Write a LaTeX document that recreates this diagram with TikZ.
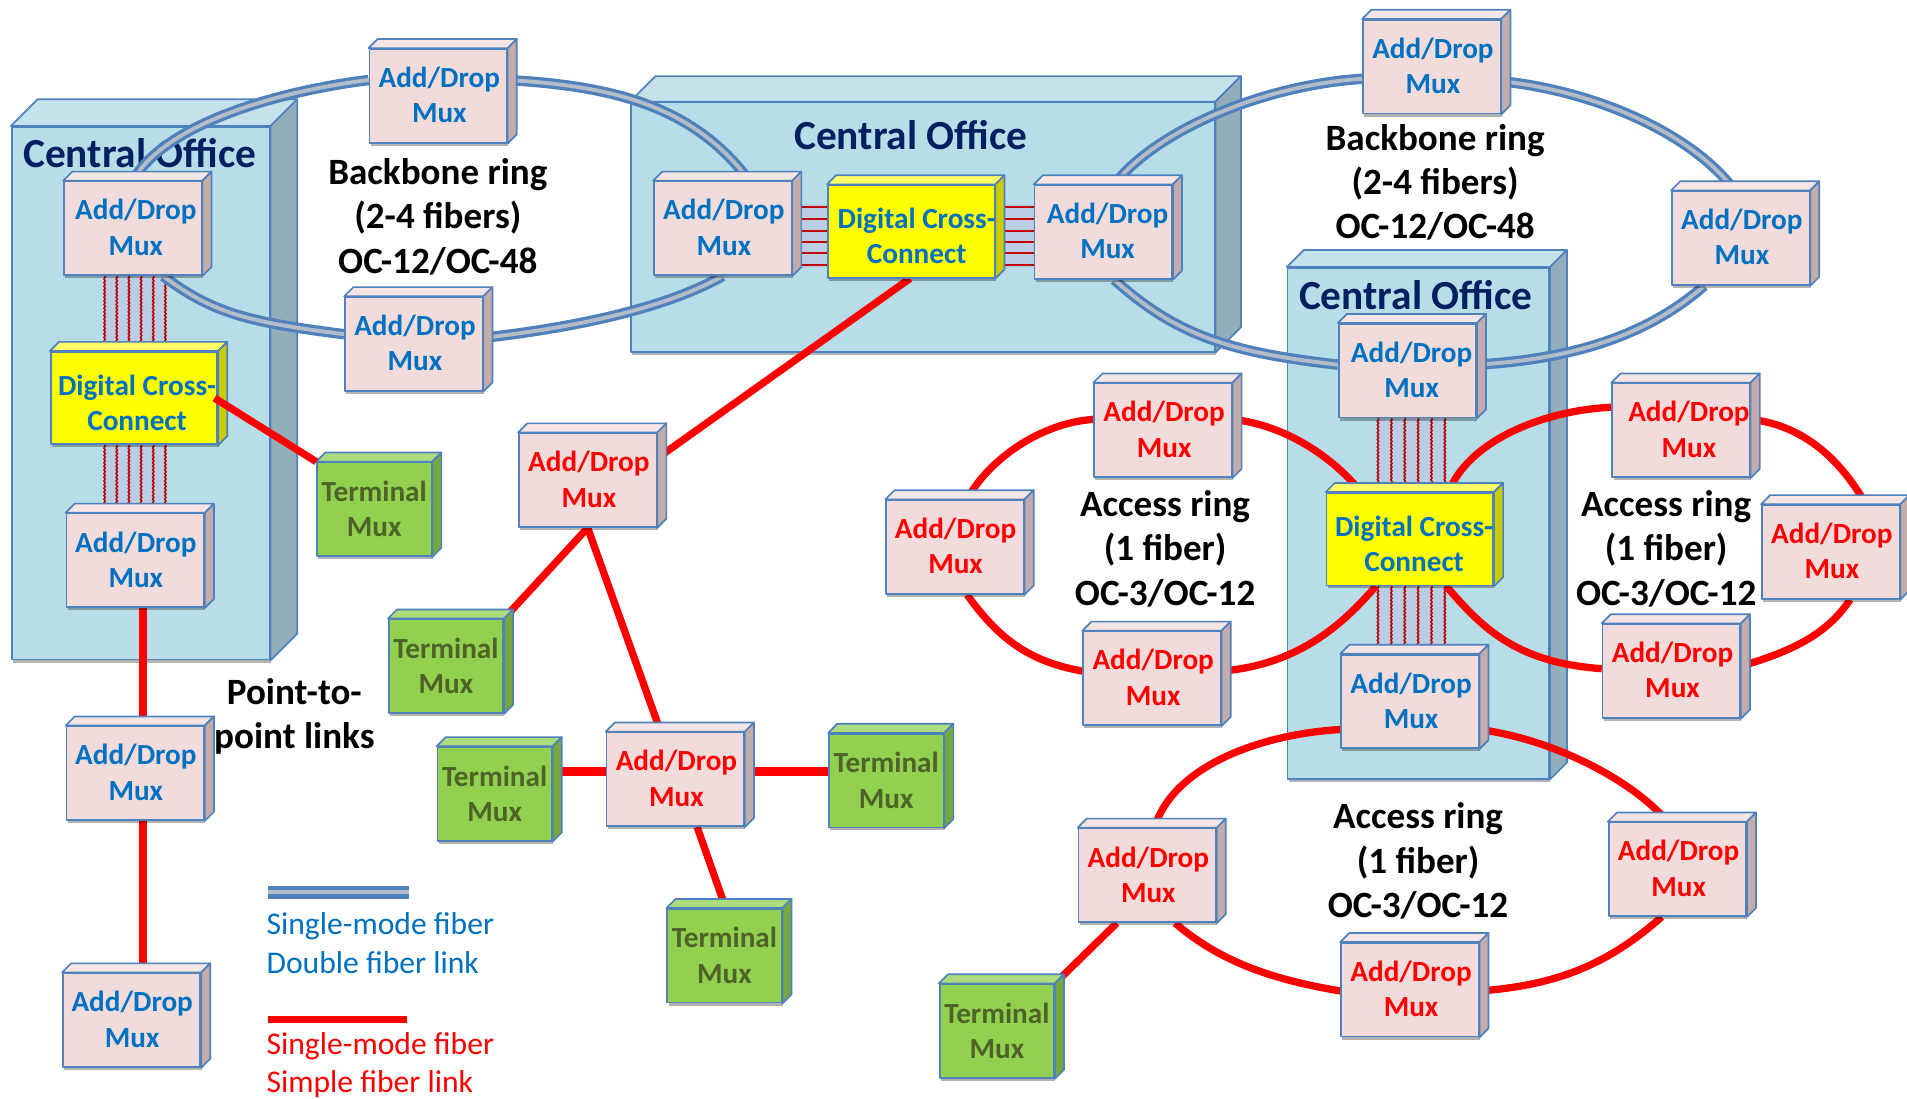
\documentclass[tikz,border=0pt]{standalone}
\usepackage{fontspec}
\setmainfont{Carlito}
\usetikzlibrary{calc,shadows,decorations.pathmorphing}
\definecolor{edgeblue}{HTML}{4F81BD}
\definecolor{textblue}{HTML}{0070C0}
\definecolor{navy}{HTML}{002060}
\definecolor{admface}{HTML}{F2DCDB}
\definecolor{admtop}{HTML}{F5E6E5}
\definecolor{admside}{HTML}{C4ACAB}
\definecolor{termface}{HTML}{92D050}
\definecolor{termtop}{HTML}{ADDC7F}
\definecolor{termside}{HTML}{75A640}
\definecolor{termtext}{HTML}{4F6228}
\definecolor{dccface}{HTML}{FFFF00}
\definecolor{dcctop}{HTML}{FFFF66}
\definecolor{dccside}{HTML}{CCCC00}
\definecolor{coface}{HTML}{B7DDE8}
\definecolor{cotop}{HTML}{C5E2EB}
\definecolor{coside}{HTML}{92AEBA}
\definecolor{bundle}{HTML}{B9CDE5}
\definecolor{bundleline}{HTML}{C00000}
\definecolor{fibergap}{HTML}{B4BCC8}
\pgfdeclarelayer{colayer}
\pgfdeclarelayer{linklayer}
\pgfdeclarelayer{overlayer}
\pgfsetlayers{colayer,linklayer,main,overlayer}
\tikzset{
  softshadow/.style={drop shadow={shadow xshift=1pt,shadow yshift=-2.5pt,opacity=.3,fill=black}},
  cubeedge/.style={draw=edgeblue,line width=1.4pt,line join=round},
  cubeface/.style={cubeedge,softshadow,inner sep=0pt,anchor=south west},
  admfont/.style={font=\fontsize{24}{29}\selectfont\bfseries},
  admb/.style={cubeface,fill=admface,minimum width=113pt,minimum height=77pt,admfont,text=textblue},
  admr/.style={cubeface,fill=admface,minimum width=113pt,minimum height=77pt,admfont,text=red},
  term/.style={cubeface,fill=termface,minimum width=94pt,minimum height=77pt,admfont,text=termtext},
  dcc/.style={cubeface,fill=dccface,minimum width=137pt,minimum height=76pt,admfont,text=textblue},
  office/.style={cubeface,fill=coface},
  officetitle/.style={font=\fontsize{34}{36}\selectfont\bfseries,text=navy,inner sep=0pt},
  caption/.style={font=\fontsize{30.5}{36.5}\selectfont\bfseries,text=black,align=center,inner sep=0pt},
  legendblue/.style={font=\fontsize{26}{32}\selectfont,text=textblue,align=left,anchor=north west,inner sep=0pt},
  legendred/.style={font=\fontsize{26}{31}\selectfont,text=red,align=left,anchor=north west,inner sep=0pt},
  bluefiber/.style={draw=edgeblue,line width=2.7pt,double=fibergap,double distance=3.2pt},
  redfiber/.style={draw=red,line width=6pt},
  bundlerule/.style={draw=bundleline,line width=1.3pt,decorate,decoration={snake,amplitude=.5pt,segment length=3pt}},
  hbundlerule/.style={draw=bundleline,line width=2pt},
}
% centred two-line label shifted by dx (right) and dy (down) from the box centre
\newcommand\boxtext[4]{\makebox[0pt]{\kern\dimexpr 2\dimexpr #1pt\relax\relax\raisebox{\dimexpr -#2pt -9.5pt\relax}[0pt][0pt]{\begin{tabular}[c]{@{}c@{}}#3\\#4\end{tabular}}}}
% name, left, bottom, depth, style, colour prefix, text
\newcommand\cubebox[7]{%
  \node[#5] (#1) at (#2,#3) {#7};
  \path[cubeedge,fill=#6top] (#1.north west) -- ++(#4,-#4) -- ($(#1.north east)+(#4,-#4)$) -- (#1.north east) -- cycle;
  \path[cubeedge,fill=#6side] (#1.north east) -- ++(#4,-#4) -- ($(#1.south east)+(#4,-#4)$) -- (#1.south east) -- cycle;
}
\newcommand\adb[4][1]{\cubebox{#2}{#3}{#4}{7.5}{admb}{adm}{\boxtext{#1}{-1.5}{Add/Drop}{Mux}}}
\newcommand\adr[4][1]{\cubebox{#2}{#3}{#4}{7.5}{admr}{adm}{\boxtext{#1}{-1.5}{Add/Drop}{Mux}}}
\newcommand\tmx[3]{\cubebox{#1}{#2}{#3}{7.5}{term}{term}{\boxtext{0}{-1}{Terminal}{Mux}}}
\newcommand\dcx[4]{\cubebox{#1}{#2}{#3}{7.5}{dcc}{dcc}{\boxtext{#4}{3}{Digital Cross-}{Connect}}}
% vertical bundle: upper node, lower node, left x, pitch
\newcommand\vbundle[4]{%
  \fill[bundle] (#3,0 |- #1.south) rectangle ({#3+5*#4},0 |- #2.north);
  \foreach \dx in {0,1,2,3,4,5}{\draw[bundlerule] ({#3+\dx*#4},0 |- #1.south) -- ({#3+\dx*#4},0 |- #2.north);}
}
% horizontal bundle: left node, right node, x-end anchor offset
\newcommand\hbundle[4]{%
  \fill[bundle] (#3,168) rectangle (#4,220);
  \foreach \yy in {170,180,190,199,208,218}{\draw[hbundlerule] (#3,\yy -| #1.east) -- (#3,\yy -| #2.west);}
}
\begin{document}
\begin{tikzpicture}[x=1pt,y=-1pt]
\useasboundingbox (0,0) rectangle (1568,903.6);
\begin{pgfonlayer}{colayer}
  \fill[white] (0,0) rectangle (1568,903.6);
  \cubebox{co1}{9}{543}{22}{office,minimum width=212pt,minimum height=438pt}{co}{}
  \cubebox{co2}{518}{290}{21}{office,minimum width=480pt,minimum height=205pt}{co}{}
  \cubebox{co3}{1058}{641}{14}{office,minimum width=215pt,minimum height=420pt}{co}{}
  \node[officetitle] (t1) at (115,126) {Central Office};
  \node[officetitle] (t2) at (749,111) {Central Office};
  \node[officetitle] (t3) at (1164,243) {Central Office};
\end{pgfonlayer}
% blue-text add/drop mux
\adb[2.5]{a1}{52}{227}
\adb[0.5]{a2}{54}{500}
\adb[0.5]{a3}{54}{675}
\adb[0.5]{a4}{51}{878}
\adb{a5}{303}{118}
\adb{a6}{283}{322}
\adb{a7}{537}{227}
\adb[3.5]{a8}{850}{230}
\adb{a9}{1120}{94}
\adb{a10}{1374}{235}
\adb[3.5]{a11}{1100}{344}
\adb{a12}{1102}{616}
% red-text add/drop mux
\adr{a13}{426}{434}
\adr{a14}{498}{680}
\adr{a15}{899}{393}
\adr[0.5]{a16}{728}{489}
\adr{a17}{890}{597}
\adr[6.5]{a18}{1325}{393}
\adr{a19}{1448}{493}
\adr{a20}{1317}{591}
\adr{a21}{886}{759}
\adr{a22}{1322}{754}
\adr{a23}{1102}{853}
% terminal mux
\tmx{t1m}{260}{458}
\tmx{t2m}{319}{587}
\tmx{t3m}{359}{692}
\tmx{t4m}{681}{681}
\tmx{t5m}{548}{825}
\tmx{t6m}{772}{887}
% cross-connects
\dcx{d1}{41}{366}{2.5}
\dcx{d2}{680}{229}{4.5}
\dcx{d3}{1090}{482}{3.5}
% captions
\node[caption] (c1) at (360,178) {Backbone ring\\(2-4 fibers)\\OC-12/OC-48};
\node[caption] (c2) at (1180,150) {Backbone ring\\(2-4 fibers)\\OC-12/OC-48};
\node[caption] (c3) at (958,451) {Access ring\\(1 fiber)\\OC-3/OC-12};
\node[caption] (c4) at (1370,451) {Access ring\\(1 fiber)\\OC-3/OC-12};
\node[caption] (c5) at (1166,708) {Access ring\\(1 fiber)\\OC-3/OC-12};
\node[caption] (c6) at (242,589) {Point-to-\\point links};
% legend
\coordinate (lg1a) at (220,733.5);
\coordinate (lg1b) at (336,733.5);
\coordinate (lg2a) at (220,838);
\coordinate (lg2b) at (335,838);
\node[legendblue] (lt1) at (219,750) {Single-mode fiber\\Double fiber link};
\node[legendred] (lt2) at (219,849) {Single-mode fiber\\Simple fiber link};
\begin{pgfonlayer}{linklayer}
  % bundles
  \vbundle{a1}{d1}{86}{10}
  \vbundle{d1}{a2}{86}{10}
  \vbundle{a11}{d3}{1133}{11}
  \vbundle{d3}{a12}{1133}{11}
  \hbundle{a7}{d2}{660}{680}
  \hbundle{d2}{a8}{825}{850}
  % left backbone ring
  \draw[bluefiber] (a1.north) .. controls +(25,-45) and +(-80,10) .. ($(a5.west)+(0,-13)$);
  \draw[bluefiber] ($(a5.east)+(0,-13)$) .. controls +(90,5) and +(-45,-60) .. ($(a7.north)+(22,0)$);
  \draw[bluefiber] (a7.south) .. controls +(-50,28) and +(70,-8) .. ($(a6.east)+(0,-5)$);
  \draw[bluefiber] ($(a6.west)+(0,-8)$) .. controls +(-80,-10) and +(40,30) .. ($(a1.south)+(25,0)$);
  % right backbone ring
  \draw[bluefiber] ($(a9.west)+(0,10)$) .. controls +(-80,5) and +(35,-45) .. ($(a8.north)+(9,0)$);
  \draw[bluefiber] ($(a9.east)+(0,12)$) .. controls +(77,8) and +(-35,-47) .. ($(a10.north)+(-5,0)$);
  \draw[bluefiber] ($(a10.south)+(-30,0)$) .. controls +(-40,35) and +(90,-5) .. ($(a11.east)+(0,-5)$);
  \draw[bluefiber] ($(a11.west)+(0,-5)$) .. controls +(-90,-10) and +(50,45) .. ($(a8.south)+(9,0)$);
  % access ring 1
  \draw[redfiber] ($(a15.west)+(0,-9)$) .. controls +(-44,3) and +(17,-32) .. ($(a16.north)+(10,0)$);
  \draw[redfiber] ($(a15.east)+(0,-9)$) .. controls +(38,4) and +(-28,-34) .. ($(d3.north)+(-40,0)$);
  \draw[redfiber] ($(a16.south)+(10,0)$) .. controls +(25,35) and +(-45,-8) .. ($(a17.west)+(0,-6)$);
  \draw[redfiber] ($(a17.east)+(0,-6)$) .. controls +(60,-5) and +(-30,35) .. ($(d3.south)+(-28,0)$);
  % access ring 2
  \draw[redfiber] ($(a18.west)+(0,-19)$) .. controls +(-60,3) and +(15,-40) .. ($(d3.north)+(32,0)$);
  \draw[redfiber] ($(a18.east)+(0,-9)$) .. controls +(45,5) and +(-20,-35) .. ($(a19.north)+(29,0)$);
  \draw[redfiber] ($(a19.south)+(16,0)$) .. controls +(-20,30) and +(40,-12) .. ($(a20.east)+(0,-4)$);
  \draw[redfiber] ($(a20.west)+(0,-2)$) .. controls +(-70,-5) and +(30,35) .. ($(d3.south)+(30,0)$);
  % access ring 3
  \draw[redfiber] ($(a12.west)+(0,23)$) .. controls +(-67,4) and +(15,-50) .. ($(a21.north)+(6,0)$);
  \draw[redfiber] ($(a12.east)+(0,23)$) .. controls +(60,8) and +(-30,-35) .. ($(a22.north)+(-8,0)$);
  \draw[redfiber] ($(a21.south)+(23,0)$) .. controls +(35,30) and +(-60,-10) .. ($(a23.west)+(0,1)$);
  \draw[redfiber] ($(a23.east)+(0,1)$) .. controls +(70,-5) and +(-40,35) .. ($(a22.south)+(-13,0)$);
  % tree and point-to-point
  \draw[redfiber] ($(a2.south)+(6.5,0)$) -- ($(a3.north)+(6.5,0)$);
  \draw[redfiber] ($(a3.south)+(6.5,0)$) -- ($(a4.north)+(9.5,0)$);
  \draw[redfiber] (a13.south) -- (t2m.north east);
  \draw[redfiber] (a13.south) -- ($(a14.north)+(-12,0)$);
  \draw[redfiber,line width=7pt] ($(a14.west)+(0,-6.5)$) -- ($(t3m.east)+(0,-18.5)$);
  \draw[redfiber,line width=7pt] ($(a14.east)+(0,-6.5)$) -- ($(t4m.west)+(0,-7.5)$);
  \draw[redfiber] ($(a14.south)+(18,0)$) -- ($(t5m.north)+(1,0)$);
  \draw[redfiber] ($(a21.south)+(-25,0)$) -- (t6m.north east);
  \draw[redfiber] ($(d2.south)+(-1,0)$) -- ($(a13.east)+(0,-18)$);
  % legend rules
  \draw[edgeblue,line width=3.6pt,double=fibergap,double distance=3.6pt] (lg1a) -- (lg1b);
  \draw[redfiber,line width=6pt] (lg2a) -- (lg2b);
\end{pgfonlayer}
\begin{pgfonlayer}{overlayer}
  \draw[redfiber] ($(d1.east)+(-3,0)$) -- (t1m.north west);
\end{pgfonlayer}
\end{tikzpicture}
\end{document}
